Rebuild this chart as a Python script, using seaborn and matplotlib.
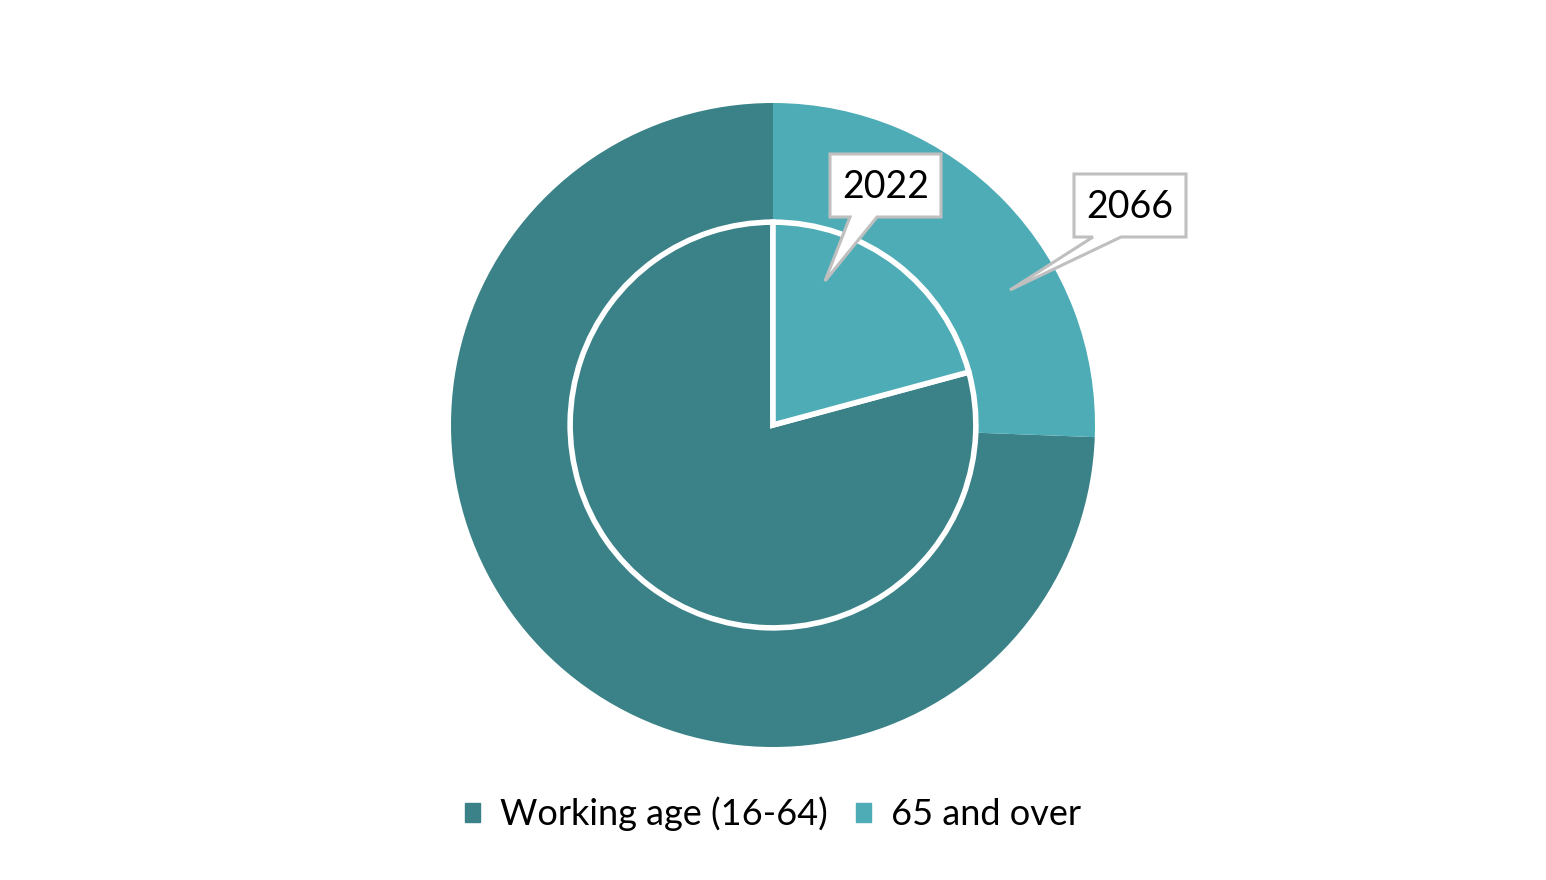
import matplotlib
matplotlib.use("Agg")
import matplotlib.pyplot as plt
import seaborn as sns
from matplotlib.patches import Polygon, Patch

# ---- data ----
categories = ["Working age (16-64)", "65 and over"]
share_2022 = [79.2, 20.8]
share_2066 = [74.4, 25.6]
year_labels = ["2022", "2066"]

sns.set_theme(style="white")
plt.rcParams['font.family'] = ['Lato', 'DejaVu Sans']
plt.rcParams['text.color'] = 'black'

palette = ["#3A8287", "#4DACB5"]

W, H = 1546, 880
fig = plt.figure(figsize=(W / 100, H / 100), dpi=100)
fig.patch.set_facecolor("white")

cx, cy, R = 773, 425, 322
ax = fig.add_axes([(cx - R) / W, (H - cy - R) / H, 2 * R / W, 2 * R / H])
ax.set_xlim(-1, 1)
ax.set_ylim(-1, 1)
ax.set_aspect("equal")
ax.axis("off")

# outer ring (2066) as full pie behind
ax.pie(share_2066, colors=palette, radius=1.0, startangle=90, counterclock=True,
       wedgeprops=dict(linewidth=0))
# inner pie (2022) with white outline
ax.pie(share_2022, colors=palette, radius=0.63, startangle=90, counterclock=True,
       wedgeprops=dict(linewidth=4, edgecolor="white", joinstyle="miter"))
ax.set_xlim(-1, 1)
ax.set_ylim(-1, 1)

# overlay for callouts in pixel coordinates
ov = fig.add_axes([0, 0, 1, 1], zorder=5)
ov.set_xlim(0, W)
ov.set_ylim(H, 0)
ov.axis("off")

def callout(x0, y0, x1, y1, b1, b2, tx, ty, text):
    pts = [(x0, y0), (x1, y0), (x1, y1), (b2, y1), (tx, ty), (b1, y1), (x0, y1)]
    ov.add_patch(Polygon(pts, closed=True, facecolor="white", edgecolor="#BFBFBF",
                         linewidth=2.2, joinstyle="miter"))
    ov.text((x0 + x1) / 2, (y0 + y1) / 2 + 1, text, ha="center", va="center",
            fontsize=27, color="black")

callout(830, 154, 941, 217, 850, 877, 825, 281, year_labels[0])
callout(1074, 174, 1186, 237, 1093, 1121, 1010, 290, year_labels[1])

handles = [Patch(facecolor=c, edgecolor=c) for c in palette]
leg = fig.legend(handles, categories, loc="center", bbox_to_anchor=(0.5, (H - 814) / H),
                 ncol=2, frameon=False, fontsize=26, handlelength=0.4, handleheight=0.4,
                 handletextpad=0.55, columnspacing=0.8)
for t in leg.get_texts():
    t.set_color("black")

fig.savefig("out.png", dpi=100, facecolor="white")
